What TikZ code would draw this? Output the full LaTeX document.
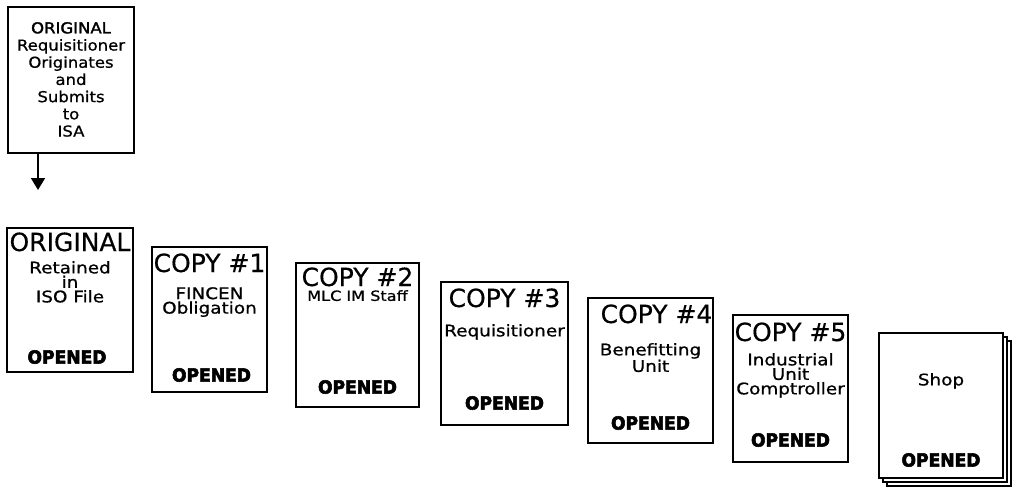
\documentclass[tikz,border=0pt]{standalone}
\usepackage{fontspec}
\setmainfont{DejaVu Sans}
\newfontfamily\titleface[FakeBold=0.4]{DejaVu Sans}
\newfontfamily\wideface[FakeStretch=1.15,FakeBold=0.8]{DejaVu Sans}
\newfontfamily\topface[FakeStretch=1.1,FakeBold=0.8]{DejaVu Sans}
\newfontfamily\topboldface[FakeStretch=1.1,FakeBold=2]{DejaVu Sans}
\newfontfamily\stampface[FakeStretch=0.95,FakeBold=3]{DejaVu Sans Bold}
\usetikzlibrary{arrows.meta}
\tikzset{
  doc/.style={draw, line width=1.6pt, fill=white, minimum width=#1, inner sep=0pt, outer sep=0pt},
  title/.style={inner sep=0pt, anchor=base, font=\titleface\fontsize{25}{25}\selectfont},
  sub/.style={inner sep=0pt, anchor=north, align=center, font=\wideface\fontsize{16}{14.5}\selectfont},
  topsub/.style={inner sep=0pt, anchor=north, align=center, font=\topface\fontsize{15}{17.2}\selectfont},
  stamp/.style={inner sep=0pt, font=\stampface\fontsize{18}{18}\selectfont},
  flow/.style={line width=1.8pt, -{Triangle[length=12pt,width=14pt]}}
}
\begin{document}
\begin{tikzpicture}[x=1pt,y=-1pt]
\useasboundingbox (0,0) rectangle (1019,493);
% top box
\node[doc=126pt, minimum height=146pt] (top) at (71,80) {};
\node[topsub] (toptext) at ([yshift=-15pt]top.north) {{\topboldface ORIGINAL}\\Requisitioner\\Originates\\and\\Submits\\to\\ISA};
\coordinate (arrowstart) at ([xshift=30pt]top.south west);
\coordinate (arrowend) at ([yshift=-37pt]arrowstart);
\draw[flow] (arrowstart) -- (arrowend);
% original
\node[doc=126pt, minimum height=144pt] (orig) at (70,300) {};
\node[title] (origt) at ([yshift=-23pt]orig.north) {ORIGINAL};
\node[sub] (origs) at ([yshift=-33pt]orig.north) {Retained\\in\\ISO File};
\node[stamp] (origo) at ([xshift=-3pt,yshift=15pt]orig.south) {OPENED};
% copy 1
\node[doc=115pt, minimum height=145pt] (c1) at (209.5,319.5) {};
\node[title] (c1t) at ([yshift=-25pt]c1.north) {COPY \#1};
\node[sub] (c1s) at ([yshift=-40pt]c1.north) {FINCEN\\Obligation};
\node[stamp] (c1o) at ([xshift=2pt,yshift=17pt]c1.south) {OPENED};
% copy 2
\node[doc=123pt, minimum height=144pt] (c2) at (357.5,335) {};
\node[title] (c2t) at ([yshift=-23pt]c2.north) {COPY \#2};
\node[sub, font=\wideface\fontsize{14}{14.5}\selectfont] (c2s) at ([yshift=-27pt]c2.north) {MLC IM Staff};
\node[stamp] (c2o) at ([yshift=20pt]c2.south) {OPENED};
% copy 3
\node[doc=127pt, minimum height=143pt] (c3) at (504.5,353.5) {};
\node[title] (c3t) at ([yshift=-25pt]c3.north) {COPY \#3};
\node[sub] (c3s) at ([yshift=-42pt]c3.north) {Requisitioner};
\node[stamp] (c3o) at ([yshift=22pt]c3.south) {OPENED};
% copy 4
\node[doc=125pt, minimum height=145pt] (c4) at (650.5,370.5) {};
\node[title] (c4t) at ([xshift=6pt,yshift=-25pt]c4.north) {COPY \#4};
\node[sub] (c4s) at ([yshift=-45pt]c4.north) {Benefitting\\Unit};
\node[stamp] (c4o) at ([yshift=20pt]c4.south) {OPENED};
% copy 5
\node[doc=115pt, minimum height=147pt] (c5) at (790.5,388.5) {};
\node[title] (c5t) at ([yshift=-26pt]c5.north) {COPY \#5};
\node[sub] (c5s) at ([yshift=-38pt]c5.north) {Industrial\\Unit\\Comptroller};
\node[stamp] (c5o) at ([yshift=22pt]c5.south) {OPENED};
% shop stack
\node[doc=124pt, minimum height=145pt] (shop3) at (949,413.5) {};
\node[doc=124pt, minimum height=145pt] (shop2) at (945,409.5) {};
\node[doc=124pt, minimum height=145pt] (shop) at (941,405.5) {};
\node[sub] (shops) at ([yshift=-40pt]shop.north) {Shop};
\node[stamp] (shopo) at ([yshift=18pt]shop.south) {OPENED};
\end{tikzpicture}
\end{document}
